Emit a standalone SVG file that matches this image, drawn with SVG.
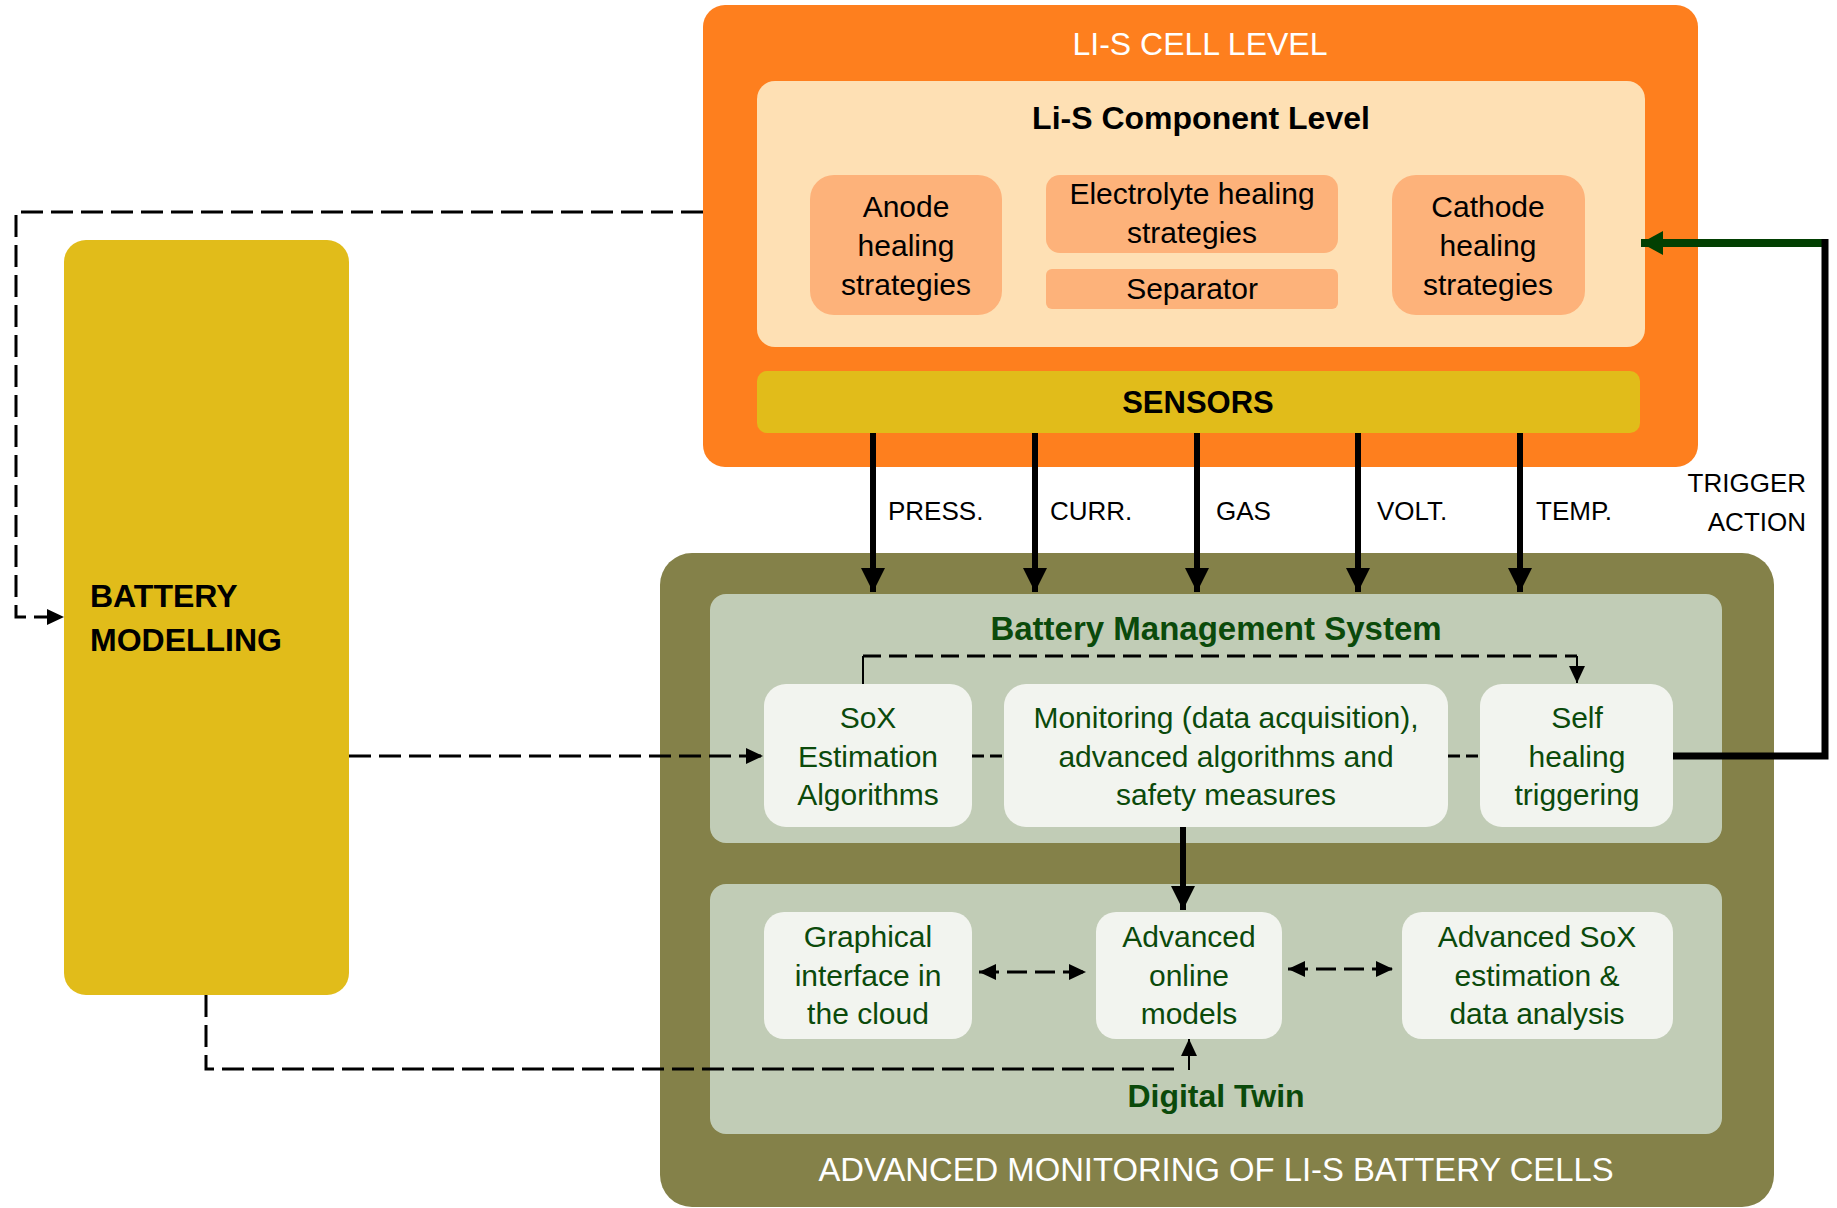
<svg xmlns="http://www.w3.org/2000/svg" width="1837" height="1208" viewBox="0 0 1837 1208">
<style>
text{font-family:"Liberation Sans",Arial,sans-serif;}
.t-white{fill:#ffffff;font-size:32px;}
.t-title{fill:#000000;font-size:32px;font-weight:bold;}
.t-comp{fill:#000000;font-size:30px;}
.t-box{fill:#0b4a0b;font-size:30px;}
.t-head{fill:#0b4a0b;font-size:32px;font-weight:bold;}
.t-lab{fill:#000000;font-size:26px;}
.orange{fill:#fe7f1e;}
.cream{fill:#fee0b4;}
.peach{fill:#fdb27a;}
.yellow{fill:#e1bc1a;}
.olive{fill:#848149;}
.sage{fill:#c1ccb6;}
.wbox{fill:#f2f4ef;}
.thick{fill:none;stroke:#000;stroke-width:6;}
.dash{fill:none;stroke:#000;stroke-width:3;stroke-dasharray:22 8;}
.thin{fill:none;stroke:#000;stroke-width:2;}
</style>
<defs>
<marker id="ah-big" markerUnits="userSpaceOnUse" viewBox="0 0 24 24" refX="24" refY="12" markerWidth="24" markerHeight="24" orient="auto"><path d="M0,0 L24,12 L0,24 Z" fill="#000"/></marker>
<marker id="ah-small" markerUnits="userSpaceOnUse" viewBox="0 0 17 16" refX="17" refY="8" markerWidth="17" markerHeight="16" orient="auto-start-reverse"><path d="M0,0 L17,8 L0,16 Z" fill="#000"/></marker>
<marker id="ah-green" markerUnits="userSpaceOnUse" viewBox="0 0 22 24" refX="22" refY="12" markerWidth="22" markerHeight="24" orient="auto"><path d="M0,0 L22,12 L0,24 Z" fill="#024002"/></marker>
</defs>

<g id="cell-level">
<rect class="orange" x="703" y="5" width="995" height="462" rx="22"/>
<text class="t-white" x="1200" y="55" text-anchor="middle">LI-S CELL LEVEL</text>
</g>
<g id="component-level">
<rect class="cream" x="757" y="81" width="888" height="266" rx="18"/>
<text class="t-title" x="1201" y="129" text-anchor="middle">Li-S Component Level</text>
</g>
<g id="anode">
<rect class="peach" x="810" y="175" width="192" height="140" rx="24"/>
<text class="t-comp" text-anchor="middle"><tspan x="906" y="217">Anode</tspan><tspan x="906" y="256">healing</tspan><tspan x="906" y="295">strategies</tspan></text>
</g>
<g id="electrolyte">
<rect class="peach" x="1046" y="175" width="292" height="78" rx="14"/>
<text class="t-comp" text-anchor="middle"><tspan x="1192" y="204">Electrolyte healing</tspan><tspan x="1192" y="243">strategies</tspan></text>
</g>
<g id="separator">
<rect class="peach" x="1046" y="269" width="292" height="40" rx="6"/>
<text class="t-comp" x="1192" y="299" text-anchor="middle">Separator</text>
</g>
<g id="cathode">
<rect class="peach" x="1392" y="175" width="193" height="140" rx="24"/>
<text class="t-comp" text-anchor="middle"><tspan x="1488" y="217">Cathode</tspan><tspan x="1488" y="256">healing</tspan><tspan x="1488" y="295">strategies</tspan></text>
</g>
<g id="sensors">
<rect class="yellow" x="757" y="371" width="883" height="62" rx="10"/>
<text class="t-title" style="font-size:31px" x="1198" y="413" text-anchor="middle">SENSORS</text>
</g>
<g id="battery-modelling">
<rect class="yellow" x="64" y="240" width="285" height="755" rx="22"/>
<text class="t-title"><tspan x="90" y="607">BATTERY</tspan><tspan x="90" y="651">MODELLING</tspan></text>
</g>
<g id="advanced-monitoring">
<rect class="olive" x="660" y="553" width="1114" height="654" rx="32"/>
<text class="t-white" style="font-size:32.8px" x="1216" y="1181" text-anchor="middle">ADVANCED MONITORING OF LI-S BATTERY CELLS</text>
</g>
<g id="bms">
<rect class="sage" x="710" y="594" width="1012" height="249" rx="16"/>
<text class="t-head" style="font-size:33px" x="1216" y="640" text-anchor="middle">Battery Management System</text>
</g>
<g id="sox-estimation">
<rect class="wbox" x="764" y="684" width="208" height="143" rx="22"/>
<text class="t-box" text-anchor="middle"><tspan x="868" y="728">SoX</tspan><tspan x="868" y="767">Estimation</tspan><tspan x="868" y="805">Algorithms</tspan></text>
</g>
<g id="monitoring">
<rect class="wbox" x="1004" y="684" width="444" height="143" rx="22"/>
<text class="t-box" text-anchor="middle"><tspan x="1226" y="728">Monitoring (data acquisition),</tspan><tspan x="1226" y="767">advanced algorithms and</tspan><tspan x="1226" y="805">safety measures</tspan></text>
</g>
<g id="self-healing">
<rect class="wbox" x="1480" y="684" width="193" height="143" rx="22"/>
<text class="t-box" text-anchor="middle"><tspan x="1577" y="728">Self</tspan><tspan x="1577" y="767">healing</tspan><tspan x="1577" y="805">triggering</tspan></text>
</g>
<g id="digital-twin">
<rect class="sage" x="710" y="884" width="1012" height="250" rx="16"/>
<text class="t-head" x="1216" y="1107" text-anchor="middle">Digital Twin</text>
</g>
<g id="graphical-interface">
<rect class="wbox" x="764" y="912" width="208" height="127" rx="20"/>
<text class="t-box" text-anchor="middle"><tspan x="868" y="947">Graphical</tspan><tspan x="868" y="986">interface in</tspan><tspan x="868" y="1024">the cloud</tspan></text>
</g>
<g id="online-models">
<rect class="wbox" x="1096" y="912" width="186" height="127" rx="20"/>
<text class="t-box" text-anchor="middle"><tspan x="1189" y="947">Advanced</tspan><tspan x="1189" y="986">online</tspan><tspan x="1189" y="1024">models</tspan></text>
</g>
<g id="advanced-sox">
<rect class="wbox" x="1402" y="912" width="271" height="127" rx="20"/>
<text class="t-box" text-anchor="middle"><tspan x="1537" y="947">Advanced SoX</tspan><tspan x="1537" y="986">estimation &amp;</tspan><tspan x="1537" y="1024">data analysis</tspan></text>
</g>

<g id="connectors">
<path class="thick" d="M873,433 V592" marker-end="url(#ah-big)"/>
<path class="thick" d="M1035,433 V592" marker-end="url(#ah-big)"/>
<path class="thick" d="M1197,433 V592" marker-end="url(#ah-big)"/>
<path class="thick" d="M1358,433 V592" marker-end="url(#ah-big)"/>
<path class="thick" d="M1520,433 V592" marker-end="url(#ah-big)"/>
<text class="t-lab" x="888" y="520">PRESS.</text>
<text class="t-lab" x="1050" y="520">CURR.</text>
<text class="t-lab" x="1216" y="520">GAS</text>
<text class="t-lab" x="1377" y="520">VOLT.</text>
<text class="t-lab" x="1536" y="520">TEMP.</text>
<path fill="none" stroke="#024002" stroke-width="8" d="M1822,243 H1641" marker-end="url(#ah-green)"/>
<path fill="none" stroke="#000" stroke-width="7" d="M1673,756 H1825 V239"/>
<text class="t-lab" text-anchor="end"><tspan x="1806" y="492">TRIGGER</tspan><tspan x="1806" y="531">ACTION</tspan></text>
<path class="dash" d="M703,212 H16 V617 H64" marker-end="url(#ah-small)"/>
<path class="dash" d="M349,756 H763" marker-end="url(#ah-small)"/>
<path class="dash" d="M206,995 V1069 H1181"/>
<path class="thin" d="M1189,1070 V1039" marker-end="url(#ah-small)"/>
<path class="thin" d="M863,684 V656"/>
<path class="dash" style="stroke-dasharray:18 8" d="M863,656 H1577"/>
<path class="thin" d="M1577,656 V683" marker-end="url(#ah-small)"/>
<path fill="none" stroke="#000" stroke-width="3" stroke-dasharray="12 6" d="M972,756 H1004"/>
<path fill="none" stroke="#000" stroke-width="3" stroke-dasharray="12 6" d="M1448,756 H1480"/>
<path class="thick" d="M1183,827 V910" marker-end="url(#ah-big)"/>
<path class="dash" style="stroke-dasharray:20 8" d="M979,972 H1086" marker-start="url(#ah-small)" marker-end="url(#ah-small)"/>
<path class="dash" style="stroke-dasharray:20 8" d="M1288,969 H1393" marker-start="url(#ah-small)" marker-end="url(#ah-small)"/>
</g>
</svg>
